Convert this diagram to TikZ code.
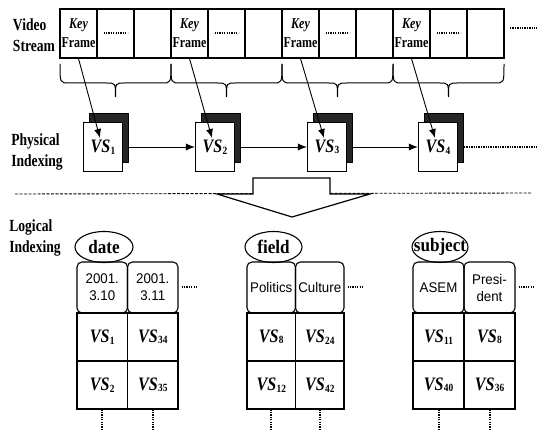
\documentclass[tikz,border=0pt]{standalone}
\usepackage{fontspec}
\setmainfont{Liberation Serif}
\newfontfamily\lblfont[FakeStretch=0.8]{Liberation Serif}
\newfontfamily\tagfont[FakeStretch=0.9]{Liberation Serif}
\newfontfamily\vsfont[FakeStretch=0.85]{Liberation Serif}
\newfontfamily\hdrfont[FakeStretch=0.95]{Liberation Sans}
\usetikzlibrary{arrows.meta,positioning,shapes.geometric}

\newcommand{\vsn}[1]{{\bfseries\itshape VS}\kern0.3pt\raisebox{-1.5pt}{\bfseries\fontsize{11}{11}\selectfont #1}}

\begin{document}
\begin{tikzpicture}[x=1pt,y=-1pt, line width=1.1pt,
  lbl/.style={font=\lblfont\bfseries\fontsize{17}{21}\selectfont, align=left, inner sep=0pt},
  cellbox/.style={draw, minimum width=37pt, minimum height=49pt, inner sep=0pt},
  keyfr/.style={font=\lblfont\bfseries\fontsize{15}{19}\selectfont, align=center, inner sep=0pt},
  dots/.style={line width=2pt, dash pattern=on 1.3pt off 1.1pt},
  brace/.style={line width=1pt},
  vsback/.style={draw, fill=black!85, minimum width=39pt, minimum height=49pt, inner sep=0pt},
  vsfront/.style={draw, fill=white, minimum width=39pt, minimum height=49pt, inner sep=0pt,
    font=\vsfont\fontsize{19}{19}\selectfont},
  kfline/.style={line width=0.9pt, -{Latex[length=9pt,width=7pt]}},
  nextvs/.style={line width=0.9pt, -{Latex[length=9pt,width=7pt]}},
  tagell/.style={draw, ellipse, minimum width=58pt, minimum height=31pt, inner sep=0pt},
  tagtxt/.style={font=\tagfont\bfseries\fontsize{19}{19}\selectfont, inner sep=0pt},
  hdrcell/.style={draw, rounded corners=5pt, minimum height=51pt, inner sep=0pt, align=center,
    font=\hdrfont\fontsize{14}{17}\selectfont},
  vscell/.style={draw, minimum height=48pt, inner sep=0pt, font=\vsfont\fontsize{19}{19}\selectfont},
]
\useasboundingbox (0,0) rectangle (542,430);

\node[lbl] (vstream) at (34,35) {Video\\Stream};
\node[lbl] (physidx) at (37,152) {Physical\\Indexing};
\node[lbl] (logidx) at (35,238) {Logical\\Indexing};

\foreach \i in {0,...,11}
  \node[cellbox] (c\i) at ({78.5+37*\i},33.5) {};
\foreach \i in {0,3,6,9}
  \node[keyfr] (k\i) at (c\i) {{\itshape Key}\\Frame};
\foreach \i in {1,4,7,10}
  \draw[dots] ([xshift=-12pt]c\i.center) -- ([xshift=12pt]c\i.center);
\coordinate (strmdots) at (510,28);
\draw[dots] (strmdots) -- ++(27,0);

\foreach \g in {0,...,3}{
  \pgfmathsetmacro\xl{60+111*\g}
  \pgfmathsetmacro\xr{\xl+111}
  \pgfmathsetmacro\xm{\xl+55.5}
  \draw[brace] (\xl,64) .. controls (\xl,83) .. (\xl+9,83) -- (\xm-9,83)
    .. controls (\xm,83) .. (\xm,97) .. controls (\xm,83) .. (\xm+9,83)
    -- (\xr-9,83) .. controls (\xr,83) .. (\xr,64);
}

\foreach \i/\x in {1/103,2/215,3/327,4/438}{
  \node[vsback] (vs\i b) at (\x+6,138) {};
  \node[vsfront] (vs\i) at (\x,147) {\vsn{\i}};
}
\foreach \i/\k in {1/0,2/3,3/6,4/9}
  \draw[kfline] (c\k.south) -- ([xshift=-3pt,yshift=9pt]vs\i.center);
\foreach \i/\j in {1/2,2/3,3/4}
  \draw[nextvs] (vs\i b.east |- vs\i.east) -- (vs\j.west);
\coordinate (physend) at (537,147);
\draw[dots] (vs4b.east |- vs4.east) -- (physend);

\coordinate (dl) at (15,194);
\coordinate (dr) at (532,193);
\draw[line width=0.9pt, dash pattern=on 3pt off 1.5pt] (dl) -- (dr);
\draw[fill=white, line width=1.2pt] (253,178) -- (330,178) -- (330,194) -- (370,194)
  -- (292,217) -- (217,194) -- (253,194) -- cycle;

\node[tagell, label={[tagtxt]center:date}] (date) at (104,247) {};
\node[tagell, minimum width=57pt, label={[tagtxt]center:field}] (field) at (273.5,247) {};
\node[tagell, minimum width=56pt, label={[tagtxt]center:subject}] (subject) at (440,247) {};

\coordinate (bottom) at (0,431);
\foreach \tb/\xl/\w/\ha/\hb/\aa/\ab/\ba/\bb in
  {d/77/50.5/{2001.\\3.10}/{2001.\\3.11}/1/34/2/35,
   f/247/48.5/Politics/Culture/8/24/12/42,
   s/413/51/ASEM/{Presi-\\dent}/11/8/40/36}{
  \node[hdrcell, minimum width=\w pt] (\tb h1) at (\xl+\w/2,287.5) {\ha};
  \node[hdrcell, minimum width=\w pt] (\tb h2) at (\xl+1.5*\w,287.5) {\hb};
  \node[vscell, minimum width=\w pt] (\tb r11) at (\xl+\w/2,337) {\vsn{\aa}};
  \node[vscell, minimum width=\w pt] (\tb r12) at (\xl+1.5*\w,337) {\vsn{\ab}};
  \node[vscell, minimum width=\w pt] (\tb r21) at (\xl+\w/2,385) {\vsn{\ba}};
  \node[vscell, minimum width=\w pt] (\tb r22) at (\xl+1.5*\w,385) {\vsn{\bb}};
  \draw[dots] ([xshift=3pt]\tb h2.east) -- ++(15,0);
  \draw[dots] (\tb r21.south) -- (\tb r21.south |- bottom);
  \draw[dots] (\tb r22.south) -- (\tb r22.south |- bottom);
}
\end{tikzpicture}
\end{document}
